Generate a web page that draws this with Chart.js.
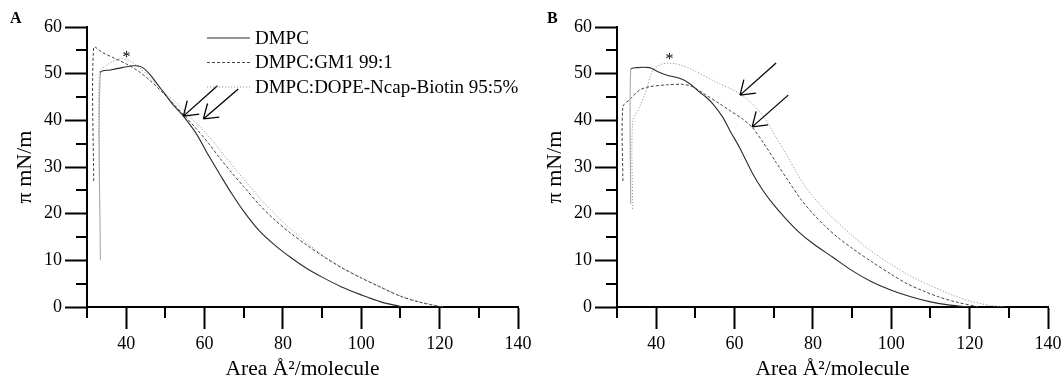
<!DOCTYPE html>
<html lang="en">
<head>
<meta charset="UTF-8">
<title>Surface pressure isotherms</title>
<script src="https://cdn.jsdelivr.net/npm/chart.js@4.4.0/dist/chart.umd.min.js"></script>
<style>
  body { margin: 0; background: #fff; }
  #wrap { position: relative; width: 1064px; height: 379px; }
  canvas { position: absolute; top: 0; }
  #chartA { left: 0; }
  #chartB { left: 530px; }
</style>
</head>
<body>
<div id="wrap">
  <canvas id="chartA" width="532" height="379"></canvas>
  <canvas id="chartB" width="532" height="379"></canvas>
</div>
<script>
// series names
const seriesNames = ['DMPC', 'DMPC:GM1 99:1', 'DMPC:DOPE-Ncap-Biotin 95:5%'];

// tick labels
const xTickLabels = [40, 60, 80, 100, 120, 140];
const yTickLabels = [0, 10, 20, 30, 40, 50, 60];

// panel A
const areaA_dmpc = [33.4, 33.4, 36, 39, 42, 44, 46, 48, 50, 52, 54.5, 58, 61, 64, 67, 70, 74, 78, 82, 86, 90, 95, 100, 105, 110];
const piA_dmpc   = [10, 50.2, 50.8, 51.3, 51.7, 51.4, 49.9, 47.7, 45.5, 43.3, 41, 37, 32.5, 28.3, 24.2, 20.5, 16.3, 13.2, 10.6, 8.3, 6.4, 4.3, 2.6, 1.1, 0.1];
const areaA_gm1  = [31.7, 31.7, 34, 37, 40, 43, 46, 49, 52, 55, 58, 61, 64, 67, 70, 74, 78, 82, 86, 90, 95, 100, 105, 110, 115, 120.5];
const piA_gm1    = [27, 55.6, 54.5, 53.3, 52.1, 50.6, 48.6, 46.2, 43.6, 40.9, 38.1, 35.1, 31.8, 28.7, 25.8, 21.9, 18.6, 15.8, 13.3, 11, 8.4, 6.2, 4.2, 2.3, 1.0, 0];
const areaA_dope = [33.2, 33.2, 35, 37, 39, 41, 44, 47, 50, 53, 56, 59, 62, 65, 68, 71, 75, 79, 83, 87, 91, 95, 100, 105, 110, 115, 121];
const piA_dope   = [22, 50.4, 51.8, 52.8, 53.2, 52.7, 50.8, 48.4, 45.8, 43.6, 41, 38.5, 35.6, 32.5, 29.4, 26.4, 22.5, 19, 16, 13.1, 10.6, 8.5, 6.3, 4.3, 2.4, 1.1, 0];

// panel B
const areaB_dmpc = [33.5, 33.5, 35, 38.3, 40, 42.6, 46, 48.5, 51, 52.7, 54.4, 56.9, 59, 61.2, 64.6, 67, 69.7, 73, 76.5, 80, 85, 90, 95, 100, 105, 110, 115, 120];
const piB_dmpc   = [22, 50.9, 51.3, 51.3, 50.6, 49.7, 49, 47.9, 46.1, 45, 43.6, 40.8, 37.5, 34.3, 28.6, 25.3, 22.2, 19, 16, 13.6, 10.7, 7.8, 5.4, 3.6, 2.2, 1.1, 0.4, 0];
const areaB_gm1  = [31.5, 31.5, 33.2, 35.8, 38.3, 42.6, 46.8, 49.3, 52, 56.1, 59, 62, 64.6, 67.5, 70.6, 73.9, 77, 80, 83, 86.5, 90, 95, 100, 104, 108, 112, 116.4, 122.4];
const piB_gm1    = [27, 42.9, 44.4, 46.5, 47.2, 47.6, 47.7, 47.2, 45.8, 43.6, 42, 40.3, 38.4, 35, 31, 26.8, 23, 20, 17.4, 14.8, 12.6, 9.7, 7, 5, 3.5, 2.2, 1.1, 0];
const areaB_dope = [34, 34, 35.8, 37.5, 39.2, 41.7, 45.1, 49.3, 55.3, 61.2, 64.5, 68, 70.5, 73.1, 75.5, 78.2, 82.4, 85, 90, 95, 100, 105, 110, 116.4, 120, 124.8, 129];
const piB_dope   = [21, 39.7, 42.9, 46.5, 50.8, 52.1, 52.1, 50.8, 48.2, 45.8, 43.6, 40.1, 36.5, 32.9, 29.3, 25.6, 21.4, 19.2, 15.3, 11.9, 9.1, 6.6, 4.6, 2.3, 1.3, 0.4, 0];

// arrows (tail x, tail y, tip x, tip y) and asterisks, in data units
const arrowsA = [[63.3, 47.4, 54.6, 40.9], [68.6, 46.7, 59.7, 40.3]];
const arrowsB = [[70.6, 52.3, 61.4, 45.4], [73.7, 45.4, 64.5, 38.6]];
const starA = [40.1, 54.4];
const starB = [43.4, 54];

const SERIF = "'Liberation Serif', 'Times New Roman', serif";
Chart.defaults.font.family = SERIF;
Chart.defaults.color = '#000';

const styles = [
  { borderColor: '#2a2a2a', borderDash: [], borderWidth: 1.1 },
  { borderColor: '#444', borderDash: [3, 2], borderWidth: 1 },
  { borderColor: '#999', borderDash: [1.2, 1.8], borderWidth: 1 }
];

function pts(xs, ys) {
  return xs.map((x, i) => ({ x: x, y: ys[i] }));
}

function makeDatasets(series) {
  return series.map((s, i) => ({
    label: seriesNames[i],
    data: pts(s[0], s[1]),
    borderColor: styles[i].borderColor,
    borderDash: styles[i].borderDash,
    borderWidth: styles[i].borderWidth,
    pointRadius: 0,
    tension: 0.3,
    fill: false,
    segment: i === 0 ? {
      borderColor: ctx => ctx.p0.parsed.x === ctx.p1.parsed.x ? '#aaa' : undefined
    } : undefined
  }));
}

// minor ticks, legend, arrows, asterisk, panel letter
const decor = {
  id: 'decor',
  afterDraw(chart, args, opts) {
    const ctx = chart.ctx;
    const area = chart.chartArea;
    const sx = chart.scales.x, sy = chart.scales.y;
    ctx.save();
    ctx.strokeStyle = '#000';
    ctx.lineWidth = 2;
    ctx.setLineDash([]);
    for (let v = 30; v <= 140; v += 10) {
      if (xTickLabels.indexOf(v) >= 0) continue;
      const px = Math.round(sx.getPixelForValue(v));
      ctx.beginPath();
      ctx.moveTo(px, area.bottom);
      ctx.lineTo(px, area.bottom + 11);
      ctx.stroke();
    }
    for (let v = 5; v <= 55; v += 10) {
      const py = Math.round(sy.getPixelForValue(v));
      ctx.beginPath();
      ctx.moveTo(area.left, py);
      ctx.lineTo(area.left - 11, py);
      ctx.stroke();
    }

    // arrows
    ctx.lineWidth = 1.3;
    opts.arrows.forEach(a => {
      const x0 = sx.getPixelForValue(a[0]), y0 = sy.getPixelForValue(a[1]);
      const x1 = sx.getPixelForValue(a[2]), y1 = sy.getPixelForValue(a[3]);
      const ang = Math.atan2(y0 - y1, x0 - x1);
      ctx.beginPath();
      ctx.moveTo(x0, y0);
      ctx.lineTo(x1, y1);
      [-0.6, 0.6].forEach(d => {
        ctx.moveTo(x1, y1);
        ctx.lineTo(x1 + 16 * Math.cos(ang + d), y1 + 16 * Math.sin(ang + d));
      });
      ctx.stroke();
    });

    // asterisk
    ctx.fillStyle = '#000';
    ctx.font = '16px ' + SERIF;
    ctx.textAlign = 'center';
    ctx.textBaseline = 'alphabetic';
    ctx.fillText('*', sx.getPixelForValue(opts.star[0]), sy.getPixelForValue(opts.star[1]) + 9);

    // panel letter
    ctx.font = 'bold 16px ' + SERIF;
    ctx.textAlign = 'left';
    ctx.fillText(opts.letter, opts.letterX, 23);

    // legend
    if (opts.legend) {
      ctx.font = '19px ' + SERIF;
      ctx.textBaseline = 'middle';
      const rows = [38, 62.5, 87];
      chart.data.datasets.forEach((ds, i) => {
        ctx.strokeStyle = ds.borderColor;
        ctx.lineWidth = ds.borderWidth;
        ctx.setLineDash(ds.borderDash);
        ctx.beginPath();
        ctx.moveTo(207, rows[i]);
        ctx.lineTo(250, rows[i]);
        ctx.stroke();
        ctx.setLineDash([]);
        ctx.fillText(ds.label, 255, rows[i] + 1);
      });
    }
    ctx.restore();
  }
};

function makeChart(id, series, opts) {
  return new Chart(document.getElementById(id), {
    type: 'line',
    data: { datasets: makeDatasets(series) },
    options: {
      responsive: false,
      animation: false,
      devicePixelRatio: 1,
      layout: { padding: { left: 0, right: 14, top: 27, bottom: 0 } },
      plugins: {
        legend: { display: false },
        tooltip: { enabled: false },
        decor: opts
      },
      scales: {
        x: {
          type: 'linear',
          min: 30,
          max: 140,
          afterFit: s => { s.height = 72; s.paddingLeft = 0; s.paddingRight = 0; },
          afterBuildTicks: s => { s.ticks = xTickLabels.map(v => ({ value: v })); },
          grid: { display: true, drawOnChartArea: false, drawTicks: true, tickLength: 22, tickWidth: 2, tickColor: '#000' },
          border: { display: true, color: '#000', width: 2 },
          ticks: {
            autoSkip: false,
            maxRotation: 0,
            padding: 4,
            font: { size: 18 }
          },
          title: {
            display: true,
            text: 'Area Å²/molecule',
            font: { size: 21.5 },
            padding: { top: 0, bottom: -3 }
          }
        },
        y: {
          min: 0,
          max: 60,
          afterFit: s => { s.width = 87; s.paddingTop = 0; s.paddingBottom = 0; },
          afterBuildTicks: s => { s.ticks = yTickLabels.map(v => ({ value: v })); },
          grid: { display: true, drawOnChartArea: false, drawTicks: true, tickLength: 22, tickWidth: 2, tickColor: '#000' },
          border: { display: true, color: '#000', width: 2 },
          ticks: {
            autoSkip: false,
            padding: 3,
            font: { size: 18 }
          },
          title: {
            display: true,
            text: 'π mN/m',
            font: { size: 22 },
            padding: { top: 12, bottom: 0 }
          }
        }
      }
    },
    plugins: [decor]
  });
}

makeChart('chartA',
  [[areaA_dmpc, piA_dmpc], [areaA_gm1, piA_gm1], [areaA_dope, piA_dope]],
  { arrows: arrowsA, star: starA, letter: 'A', letterX: 10, legend: true });

makeChart('chartB',
  [[areaB_dmpc, piB_dmpc], [areaB_gm1, piB_gm1], [areaB_dope, piB_dope]],
  { arrows: arrowsB, star: starB, letter: 'B', letterX: 17, legend: false });
</script>
</body>
</html>
